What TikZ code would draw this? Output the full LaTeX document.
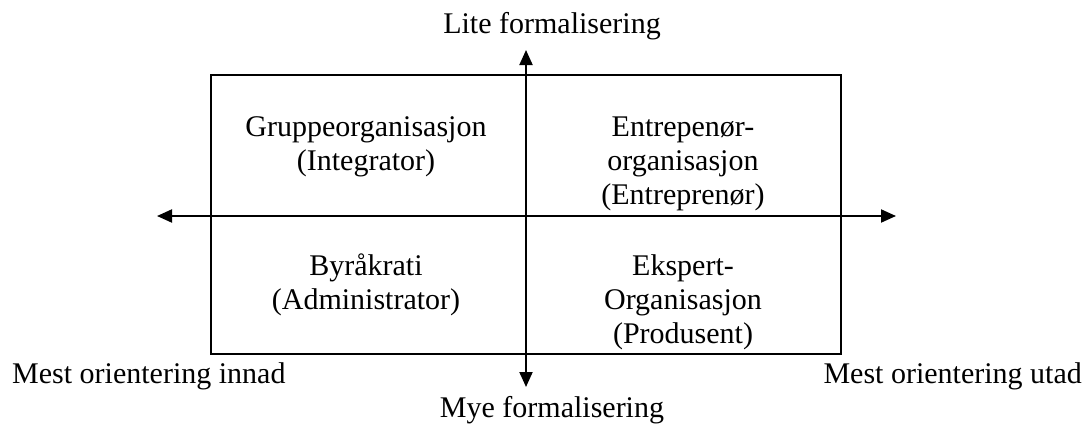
\documentclass[tikz,border=0pt]{standalone}
\usepackage{fontspec}
\setmainfont{Liberation Serif}
\usetikzlibrary{arrows.meta}
\tikzset{
  lbl/.style={font=\fontsize{30}{34}\selectfont, inner sep=0pt},
  cell/.style={lbl, align=center, anchor=north},
  axis/.style={line width=2pt, {Triangle[length=15pt,width=13pt]}-{Triangle[length=15pt,width=13pt]}},
  frame/.style={draw, line width=2pt, minimum width=630pt, minimum height=279pt, inner sep=0pt}
}
\newcommand{\firstline}{\rule{0pt}{21pt}}
\begin{document}
\begin{tikzpicture}[x=1pt,y=-1pt]
  \useasboundingbox (0,0) rectangle (1086,423);
  % quadrant frame
  \node[frame] (box) at (526,214.5) {};
  % axis end points
  \coordinate (top) at (526,50);
  \coordinate (bot) at (526,387);
  \coordinate (lft) at (157,216);
  \coordinate (rgt) at (896,216);
  \draw[axis] (bot) -- (top);
  \draw[axis] (lft) -- (rgt);
  % axis labels
  \node[lbl, anchor=base] (ltop) at (552,33) {Lite formalisering};
  \node[lbl, anchor=base] (lbot) at (552,417) {Mye formalisering};
  \node[lbl, anchor=base west] (lin) at (12,383) {Mest orientering innad};
  \node[lbl, anchor=base east] (lout) at (1082,383) {Mest orientering utad};
  % quadrant texts
  \node[cell] (q1) at (366,115) {\firstline Gruppeorganisasjon\\(Integrator)};
  \node[cell] (q2) at (683,115) {\firstline Entrepenør-\\organisasjon\\(Entreprenør)};
  \node[cell] (q3) at (366,254) {\firstline Byråkrati\\(Administrator)};
  \node[cell] (q4) at (683,254) {\firstline Ekspert-\\Organisasjon\\(Produsent)};
\end{tikzpicture}
\end{document}
